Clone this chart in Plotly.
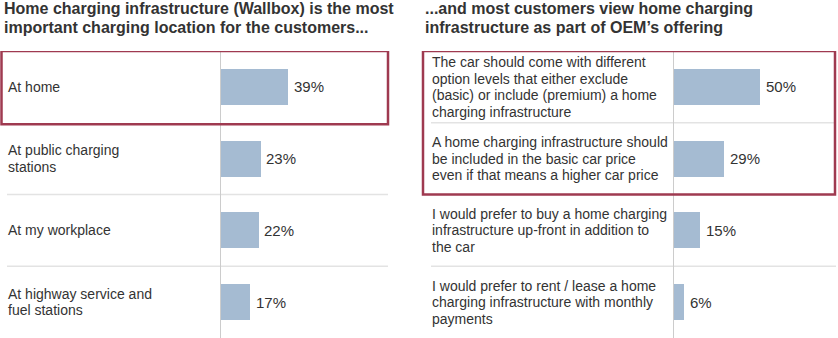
import plotly.graph_objects as go

left_title = ["Home charging infrastructure (Wallbox) is the most",
              "important charging location for the customers..."]
right_title = ["...and most customers view home charging",
               "infrastructure as part of OEM\u2019s offering"]

left_categories = [
    "At home",
    "At public charging<br>stations",
    "At my workplace",
    "At highway service and<br>fuel stations",
]
left_values = [39, 23, 22, 17]

right_categories = [
    "The car should come with different<br>option levels that either exclude<br>(basic) or include (premium) a home<br>charging infrastructure",
    "A home charging infrastructure should<br>be included in the basic car price<br>even if that means a higher car price",
    "I would prefer to buy a home charging<br>infrastructure up-front in addition to<br>the car",
    "I would prefer to rent / lease a home<br>charging infrastructure with monthly<br>payments",
]
right_values = [50, 29, 15, 6]

W, H = 838, 338
BAR = "#a5bbd2"
RED = "#9f3a50"
GRID = "#e3e3e3"
AXIS = "#cccccc"
TXT = "#333333"
FONT = "Liberation Sans, Arial, sans-serif"

PX_PER_PCT = 1.72
L_AX, L_END = 220.5, 388
R_AX, R_END = 674, 836
top_px = 51
ydom = [0, (H - top_px) / H]
LINE_H = 16.5

fig = go.Figure()
ypos_l = list(range(len(left_values)))
ypos_r = list(range(len(right_values)))

fig.add_trace(go.Bar(
    x=left_values, y=ypos_l, orientation="h", width=0.5,
    marker=dict(color=BAR, line=dict(width=0)),
    xaxis="x", yaxis="y", hoverinfo="skip",
))
fig.add_trace(go.Bar(
    x=right_values, y=ypos_r, orientation="h", width=0.5,
    marker=dict(color=BAR, line=dict(width=0)),
    xaxis="x2", yaxis="y2", hoverinfo="skip",
))

def xaxis(ax0, ax1):
    return dict(domain=[ax0 / W, ax1 / W], range=[0, (ax1 - ax0) / PX_PER_PCT],
                showgrid=False, zeroline=False, showticklabels=False,
                showline=False, ticks="", fixedrange=True)

def yaxis(anchor):
    return dict(domain=ydom, range=[3.5, -0.5], anchor=anchor,
                showgrid=False, zeroline=False, showticklabels=False,
                showline=True, linecolor=AXIS, linewidth=1, ticks="", fixedrange=True)

fig.update_layout(
    width=W, height=H, margin=dict(l=0, r=0, t=0, b=0),
    paper_bgcolor="white", plot_bgcolor="rgba(0,0,0,0)",
    showlegend=False, bargap=0,
    xaxis=xaxis(L_AX, L_END), yaxis=yaxis("x"),
    xaxis2=xaxis(R_AX, R_END), yaxis2=yaxis("x2"),
)

ann = []
# titles
for x0, lines in [(2, left_title), (423, right_title)]:
    for j, ln in enumerate(lines):
        ann.append(dict(text="<b>" + ln + "</b>", x=x0 / W, y=1 - (8.5 + 19 * j) / H,
                        xref="paper", yref="paper", xanchor="left", yanchor="middle",
                        align="left", showarrow=False,
                        font=dict(size=16, color=TXT, family=FONT)))

def add_labels(cats, x0, yref):
    for i, c in enumerate(cats):
        lines = c.split("<br>")
        n = len(lines)
        for j, ln in enumerate(lines):
            ann.append(dict(text=ln, x=x0 / W, y=i, xref="paper", yref=yref,
                            xanchor="left", yanchor="middle", align="left", showarrow=False,
                            yshift=-(j - (n - 1) / 2) * LINE_H,
                            font=dict(size=14, color=TXT, family=FONT)))

def add_values(vals, xref, yref):
    for i, v in enumerate(vals):
        ann.append(dict(text=f"{v}%", x=v, y=i, xref=xref, yref=yref,
                        xanchor="left", yanchor="middle", showarrow=False, xshift=4,
                        font=dict(size=15, color=TXT, family=FONT)))

add_labels(left_categories, 6, "y")
add_labels(right_categories, 430, "y2")
add_values(left_values, "x", "y")
add_values(right_values, "x2", "y2")
fig.update_layout(annotations=ann)

shapes = []
# separators
for b in [1.5, 2.5]:
    shapes.append(dict(type="line", xref="paper", yref="y", x0=7 / W, x1=L_END / W, y0=b, y1=b,
                       line=dict(color=GRID, width=1.5), layer="below"))
for b in [0.5, 2.5]:
    shapes.append(dict(type="line", xref="paper", yref="y2", x0=431 / W, x1=R_END / W, y0=b, y1=b,
                       line=dict(color=GRID, width=1.5), layer="below"))
# highlight boxes
shapes.append(dict(type="rect", xref="paper", yref="y", x0=1.5 / W, x1=L_END / W, y0=-0.5, y1=0.52,
                   line=dict(color=RED, width=2.5), fillcolor="rgba(0,0,0,0)"))
shapes.append(dict(type="rect", xref="paper", yref="y2", x0=423 / W, x1=835 / W, y0=-0.5, y1=1.5,
                   line=dict(color=RED, width=2.5), fillcolor="rgba(0,0,0,0)"))
fig.update_layout(shapes=shapes)

fig.write_html("out.html")
